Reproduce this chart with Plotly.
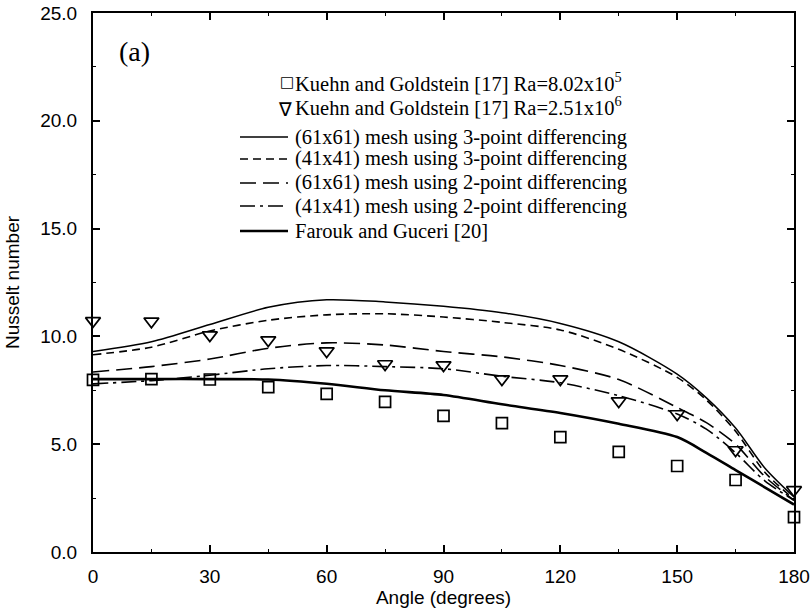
import plotly.graph_objects as go

# ---------------- data ----------------
exp_angles = [0, 15, 30, 45, 60, 75, 90, 105, 120, 135, 150, 165, 180]
kg_ra_802e5 = [7.98, 8.02, 8.0, 7.65, 7.33, 6.96, 6.31, 5.98, 5.33, 4.64, 3.99, 3.34, 1.62]
kg_ra_251e6 = [10.72, 10.7, 10.06, 9.83, 9.32, 8.72, 8.67, 8.02, 8.02, 7.0, 6.4, 4.73, 2.88]

num_angles = [0, 15, 30, 45, 60, 75, 90, 105, 120, 135, 150, 157.5, 165, 172.5, 180]
mesh61_3pt = [9.3, 9.75, 10.55, 11.35, 11.7, 11.6, 11.4, 11.1, 10.6, 9.75, 8.25, 7.15, 5.75, 3.9, 2.55]
mesh41_3pt = [9.15, 9.5, 10.25, 10.75, 11.0, 11.05, 10.9, 10.65, 10.3, 9.4, 8.1, 7.05, 5.6, 3.7, 2.45]
mesh61_2pt = [8.35, 8.6, 8.95, 9.45, 9.7, 9.6, 9.3, 9.05, 8.65, 8.0, 6.7, 6.0, 5.0, 3.5, 2.4]
mesh41_2pt = [7.8, 7.95, 8.2, 8.5, 8.65, 8.6, 8.5, 8.15, 7.85, 7.25, 6.4, 5.7, 4.6, 3.3, 2.4]
farouk_guceri = [8.02, 8.02, 8.02, 8.0, 7.8, 7.5, 7.28, 6.85, 6.45, 5.95, 5.33, 4.6, 3.8, 3.0, 2.2]

x_ticks = [0, 30, 60, 90, 120, 150, 180]
y_ticks = [0, 5, 10, 15, 20, 25]

legend_labels = [
    "Kuehn and Goldstein [17] Ra=8.02x10<sup>5</sup>",
    "Kuehn and Goldstein [17] Ra=2.51x10<sup>6</sup>",
    "(61x61) mesh using 3-point differencing",
    "(41x41) mesh using 3-point differencing",
    "(61x61) mesh using 2-point differencing",
    "(41x41) mesh using 2-point differencing",
    "Farouk and Guceri [20]",
]

# ---------------- styles ----------------
line_styles = [
    dict(width=1.5, dash="solid"),
    dict(width=1.6, dash="8px,5px"),
    dict(width=1.6, dash="16px,7px"),
    dict(width=1.6, dash="15px,5px,3px,5px"),
    dict(width=2.6, dash="solid"),
]
series = [mesh61_3pt, mesh41_3pt, mesh61_2pt, mesh41_2pt, farouk_guceri]

fig = go.Figure()
for ys, st in zip(series, line_styles):
    fig.add_trace(go.Scatter(
        x=num_angles, y=ys, mode="lines",
        line=dict(color="black", width=st["width"], dash=st["dash"], shape="spline", smoothing=0.8),
        showlegend=False, cliponaxis=False,
    ))

fig.add_trace(go.Scatter(
    x=exp_angles, y=kg_ra_802e5, mode="markers",
    marker=dict(symbol="square-open", size=11, color="black", line=dict(width=1.7)),
    showlegend=False, cliponaxis=False,
))
fig.add_trace(go.Scatter(
    x=exp_angles, y=kg_ra_251e6, mode="markers",
    marker=dict(symbol="triangle-down-open", size=13, color="black", line=dict(width=1.7)),
    showlegend=False, cliponaxis=False,
))

# ---------------- manual legend ----------------
W, H = 812, 609
L, R, T, B = 93, 18, 13, 57
pw, ph = W - L - R, H - T - B

def px_x(p):
    return (p - L) / pw

def px_y(p):
    return (H - B - p) / ph

row_y = [82, 106, 137, 159, 183, 206, 231]
text_x = 293
serif = "Liberation Serif, Times New Roman, serif"
for lab, yy in zip(legend_labels, row_y):
    fig.add_annotation(
        x=px_x(text_x), y=px_y(yy), xref="paper", yref="paper",
        text=lab, showarrow=False, xanchor="left", yanchor="middle",
        font=dict(family=serif, size=20.5, color="black"),
    )
# symbol glyphs for experimental rows
for glyph, size, gx, dy, yy in zip(["□", "∇"], [15, 19], [287, 285], [0, 3], row_y[:2]):
    fig.add_annotation(
        x=px_x(gx), y=px_y(yy + dy), xref="paper", yref="paper",
        text=glyph, showarrow=False, xanchor="center", yanchor="middle",
        font=dict(family="DejaVu Sans", size=size, color="black"),
    )
# line samples
for st, yy in zip(line_styles, row_y[2:]):
    fig.add_shape(
        type="line", xref="paper", yref="paper",
        x0=px_x(240), x1=px_x(288), y0=px_y(yy), y1=px_y(yy),
        line=dict(color="black", width=st["width"], dash=st["dash"]),
    )

fig.add_annotation(
    x=px_x(134), y=px_y(51), xref="paper", yref="paper",
    text="(a)", showarrow=False, xanchor="center", yanchor="middle",
    font=dict(family=serif, size=28, color="black"),
)

axis_font = dict(family="Liberation Sans, Arial, sans-serif", size=19, color="black")

fig.update_xaxes(
    range=[0, 180], tickvals=x_ticks, ticktext=[str(v) for v in x_ticks],
    ticks="inside", ticklen=7, tickwidth=1.5, tickcolor="black",
    showline=True, linecolor="black", linewidth=2, mirror="ticks",
    showgrid=False, zeroline=False, tickfont=axis_font, ticklabelstandoff=6,
    minor=dict(ticks="inside", ticklen=3, tickwidth=1.2, tickcolor="black", dtick=15, showgrid=False),
    title=dict(text="Angle (degrees)", font=axis_font, standoff=4),
)
fig.update_yaxes(
    range=[0, 25], tickvals=y_ticks, ticktext=[f"{v:.1f}" for v in y_ticks],
    ticks="inside", ticklen=7, tickwidth=1.5, tickcolor="black",
    showline=True, linecolor="black", linewidth=2, mirror="ticks",
    showgrid=False, zeroline=False, tickfont=axis_font, ticklabelstandoff=10,
    minor=dict(ticks="inside", ticklen=3, tickwidth=1.2, tickcolor="black", dtick=2.5, showgrid=False),
    title=dict(text="Nusselt number", font=axis_font, standoff=16),
)

fig.update_layout(
    width=W, height=H,
    margin=dict(l=L, r=R, t=T, b=B, autoexpand=False),
    plot_bgcolor="white", paper_bgcolor="white",
    showlegend=False,
)

fig.write_html("out.html")
